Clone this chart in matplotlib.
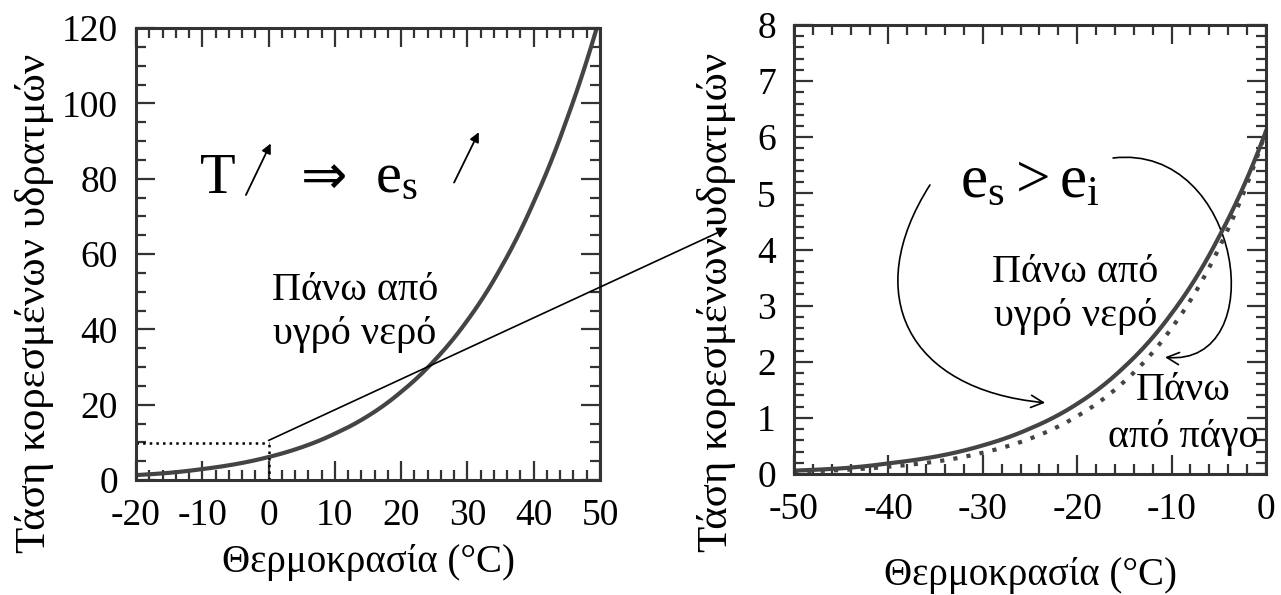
import matplotlib
matplotlib.use('Agg')
import matplotlib.pyplot as plt
import numpy as np
from matplotlib.patches import FancyArrowPatch, ConnectionPatch
from matplotlib.path import Path
from matplotlib.ticker import MultipleLocator

plt.rcParams['font.family'] = ['Liberation Serif', 'DejaVu Serif']
plt.rcParams['mathtext.fontset'] = 'custom'
plt.rcParams['mathtext.rm'] = 'Liberation Serif'
plt.rcParams['mathtext.it'] = 'Liberation Serif'
plt.rcParams['axes.unicode_minus'] = False

# left panel: saturation vapour pressure over liquid water (hPa)
temp_warm = [-20, -15, -10, -5, 0, 5, 10, 15, 20, 25, 30, 35, 40, 45, 50]
es_warm = [1.3, 1.9, 2.9, 4.2, 6.1, 8.7, 12.3, 17.0, 23.4, 31.7, 42.4, 56.2, 73.8, 95.8, 123.0]

# right panel: over water (solid) and over ice (dotted)
temp_cold = [-50, -45, -40, -35, -30, -25, -20, -15, -10, -5, 0]
es_water = [0.06, 0.10, 0.19, 0.31, 0.51, 0.81, 1.25, 1.91, 2.86, 4.22, 6.11]
es_ice = [0.04, 0.07, 0.13, 0.22, 0.38, 0.63, 1.03, 1.65, 2.60, 4.02, 6.11]

ylabel = 'Τάση κορεσμένων υδρατμών'
xlabel = 'Θερμοκρασία (°C)'
curve_col = '#444444'
W, H = 1281, 595


def smooth(x, y, n=200):
    # log-linear interpolation between read points for a smooth curve
    xs = np.linspace(x[0], x[-1], n)
    ys = np.exp(np.interp(xs, x, np.log(y)))
    return xs, ys


def style_axes(ax):
    for s in ax.spines.values():
        s.set_linewidth(2.2)
        s.set_color('#333333')
    ax.tick_params(which='both', direction='in', top=True, right=True,
                   color='#333333', width=1.6)
    ax.tick_params(which='major', length=14, labelsize=27, pad=13)
    ax.tick_params(which='minor', length=7)


fig = plt.figure(figsize=(W / 100, H / 100), dpi=100)
ax1 = fig.add_axes([136 / W, 1 - 480 / H, 464 / W, 452 / H])
ax2 = fig.add_axes([794 / W, 1 - 474 / H, 472 / W, 449 / H])

# ---- left panel
xs, ys = smooth(temp_warm, es_warm)
ax1.plot(xs, ys, color=curve_col, lw=3)
ax1.set_xlim(-20, 50)
ax1.set_ylim(0, 120)
ax1.xaxis.set_major_locator(MultipleLocator(10))
ax1.xaxis.set_minor_locator(MultipleLocator(2))
ax1.yaxis.set_major_locator(MultipleLocator(20))
ax1.yaxis.set_minor_locator(MultipleLocator(5))
style_axes(ax1)
ax1.set_xlabel(xlabel, fontsize=28, labelpad=8)
ax1.set_ylabel(ylabel, fontsize=31, va='center')
ax1.yaxis.set_label_coords(-0.218, 0.39)

ax1.plot([-20, 0], [9.8, 9.8], ls=':', color='black', lw=1.8)
ax1.plot([0, 0], [0, 9.8], ls=':', color='black', lw=1.8)

ax1.text(-7.6, 80, 'T', fontsize=42, ha='center', va='center')
ax1.annotate('', xy=(0.5, 90), xytext=(-3.6, 75),
             arrowprops=dict(arrowstyle='-|>', color='black', lw=1.3, mutation_scale=14))
ax1.text(8.4, 80, '⇒', fontsize=40, ha='center', va='center', family='DejaVu Sans')
ax1.text(19.3, 80, r'$\mathrm{e_s}$', fontsize=42, ha='center', va='center')
ax1.annotate('', xy=(31.9, 93), xytext=(27.8, 78.3),
             arrowprops=dict(arrowstyle='-|>', color='black', lw=1.3, mutation_scale=14))
ax1.text(13, 44.5, 'Πάνω από\nυγρό νερό', fontsize=29, ha='center', va='center',
         linespacing=1.25)

# ---- right panel
xs, ys = smooth(temp_cold, es_water)
ax2.plot(xs, ys, color=curve_col, lw=3)
xs, ys = smooth(temp_cold, es_ice)
ax2.plot(xs, ys, color=curve_col, lw=3, ls=(0, (1, 2.2)))
ax2.set_xlim(-50, 0)
ax2.set_ylim(0, 8)
ax2.xaxis.set_major_locator(MultipleLocator(10))
ax2.xaxis.set_minor_locator(MultipleLocator(2))
ax2.yaxis.set_major_locator(MultipleLocator(1))
ax2.yaxis.set_minor_locator(MultipleLocator(0.2))
style_axes(ax2)
ax2.set_xlabel(xlabel, fontsize=28, labelpad=22)
ax2.set_ylabel(ylabel, fontsize=31, va='center')
ax2.yaxis.set_label_coords(-0.165, 0.383)

ax2.text(-25, 5.2, r'$\mathrm{e_s > e_i}$', fontsize=44, ha='center', va='center')
ax2.text(-20.2, 3.2, 'Πάνω από\nυγρό νερό', fontsize=29, ha='center', va='center',
         linespacing=1.25)
ax2.text(-8.8, 1.07, 'Πάνω\nαπό πάγο', fontsize=29, ha='center', va='center',
         linespacing=1.35)

p1 = Path([(-35.6, 5.15), (-43, 3.2), (-38, 1.5), (-23.4, 1.27)],
          [Path.MOVETO, Path.CURVE4, Path.CURVE4, Path.CURVE4])
ax2.add_patch(FancyArrowPatch(path=p1, arrowstyle='->', mutation_scale=22,
                              color='black', lw=1.2, transform=ax2.transData))
p2 = Path([(-16.2, 5.63), (-2.5, 5.9), (0.8, 1.9), (-10.7, 2.08)],
          [Path.MOVETO, Path.CURVE4, Path.CURVE4, Path.CURVE4])
ax2.add_patch(FancyArrowPatch(path=p2, arrowstyle='->', mutation_scale=22,
                              color='black', lw=1.2, transform=ax2.transData,
                              clip_on=False))

# long connecting arrow from the zoom box to the right panel
con = ConnectionPatch(xyA=(0, 10.5), coordsA=ax1.transData,
                      xyB=(-0.14, 0.548), coordsB=ax2.transAxes,
                      arrowstyle='-|>', mutation_scale=16, color='black', lw=1.2)
fig.add_artist(con)

fig.savefig('out.png', dpi=100)
